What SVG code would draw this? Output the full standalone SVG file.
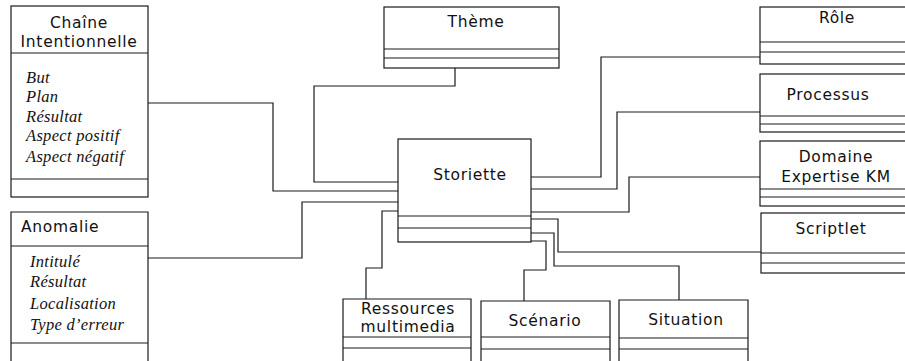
<svg xmlns="http://www.w3.org/2000/svg" width="905" height="361" viewBox="0 0 905 361">
<style>
.box{fill:#fff;stroke:#1a1a1a;stroke-width:1.2}
.div{stroke:#1a1a1a;stroke-width:1.2}
.conn{fill:none;stroke:#1a1a1a;stroke-width:1.2}
.h{font-family:"DejaVu Sans",sans-serif;font-size:15.5px;letter-spacing:0.7px;fill:#111}
.hc{text-anchor:middle}
.a{font-family:"Liberation Serif",serif;font-style:italic;font-size:16.5px;letter-spacing:0.3px;fill:#111}
</style>
<rect width="905" height="361" fill="#fff"/>
<g id="connectors">
<path class="conn" d="M148,103 H273 V191 H398"/>
<path class="conn" d="M455,68 V86 H314 V182 H398"/>
<path class="conn" d="M148,258 H302 V202 H398"/>
<path class="conn" d="M398,211 H382 V268 H366 V299"/>
<path class="conn" d="M531,177 H601 V57 H760"/>
<path class="conn" d="M531,189 H617 V112 H760"/>
<path class="conn" d="M531,212 H629 V177 H760"/>
<path class="conn" d="M531,219 H558 V252 H761"/>
<path class="conn" d="M531,233 H554 V266 H679 V300"/>
<path class="conn" d="M529,241 H546 V270 H524 V301"/>
</g>
<g id="chaine">
<rect class="box" x="11" y="6" width="137" height="191"/>
<line class="div" x1="11" y1="53" x2="148" y2="53"/>
<line class="div" x1="11" y1="179" x2="148" y2="179"/>
<text class="h hc" x="79" y="28">Chaîne</text>
<text class="h hc" x="79" y="47">Intentionnelle</text>
<text class="a" x="26" y="83">But</text>
<text class="a" x="26" y="102">Plan</text>
<text class="a" x="26" y="122">Résultat</text>
<text class="a" x="26" y="141">Aspect positif</text>
<text class="a" x="26" y="162">Aspect négatif</text>
</g>
<g id="anomalie">
<path class="box" d="M11,370 V212 H148 V370"/>
<line class="div" x1="11" y1="246" x2="148" y2="246"/>
<line class="div" x1="11" y1="343" x2="148" y2="343"/>
<text class="h" x="21" y="232">Anomalie</text>
<text class="a" x="30" y="267">Intitulé</text>
<text class="a" x="30" y="287">Résultat</text>
<text class="a" x="30" y="309">Localisation</text>
<text class="a" x="30" y="330">Type d’erreur</text>
</g>
<g id="theme">
<rect class="box" x="384" y="7" width="175" height="61"/>
<line class="div" x1="384" y1="49" x2="559" y2="49"/>
<line class="div" x1="384" y1="58" x2="559" y2="58"/>
<text class="h hc" x="476" y="27">Thème</text>
</g>
<g id="storiette">
<rect class="box" x="398" y="139" width="133" height="103"/>
<line class="div" x1="398" y1="216" x2="531" y2="216"/>
<line class="div" x1="398" y1="228" x2="531" y2="228"/>
<text class="h hc" x="470" y="180">Storiette</text>
</g>
<g id="role">
<rect class="box" x="760" y="7" width="160" height="57"/>
<line class="div" x1="760" y1="42" x2="920" y2="42"/>
<line class="div" x1="760" y1="52" x2="920" y2="52"/>
<text class="h hc" x="837" y="23">Rôle</text>
</g>
<g id="processus">
<rect class="box" x="760" y="74" width="160" height="58"/>
<line class="div" x1="760" y1="116" x2="920" y2="116"/>
<line class="div" x1="760" y1="124" x2="920" y2="124"/>
<text class="h hc" x="828" y="100">Processus</text>
</g>
<g id="domaine">
<rect class="box" x="760" y="141" width="160" height="65"/>
<line class="div" x1="760" y1="189" x2="920" y2="189"/>
<line class="div" x1="760" y1="197" x2="920" y2="197"/>
<text class="h hc" x="836" y="162">Domaine</text>
<text class="h hc" x="836" y="182">Expertise KM</text>
</g>
<g id="scriptlet">
<rect class="box" x="761" y="213" width="160" height="60"/>
<line class="div" x1="761" y1="253" x2="921" y2="253"/>
<line class="div" x1="761" y1="263" x2="921" y2="263"/>
<text class="h hc" x="831" y="234">Scriptlet</text>
</g>
<g id="ressources">
<path class="box" d="M343,370 V299 H471 V370"/>
<line class="div" x1="343" y1="337" x2="471" y2="337"/>
<line class="div" x1="343" y1="348" x2="471" y2="348"/>
<text class="h hc" x="408" y="314">Ressources</text>
<text class="h hc" x="408" y="332">multimedia</text>
</g>
<g id="scenario">
<path class="box" d="M481,370 V301 H610 V370"/>
<line class="div" x1="481" y1="337" x2="610" y2="337"/>
<line class="div" x1="481" y1="349" x2="610" y2="349"/>
<text class="h hc" x="545" y="326">Scénario</text>
</g>
<g id="situation">
<path class="box" d="M619,370 V300 H748 V370"/>
<line class="div" x1="619" y1="338" x2="748" y2="338"/>
<line class="div" x1="619" y1="349" x2="748" y2="349"/>
<text class="h hc" x="686" y="325">Situation</text>
</g>
</svg>
